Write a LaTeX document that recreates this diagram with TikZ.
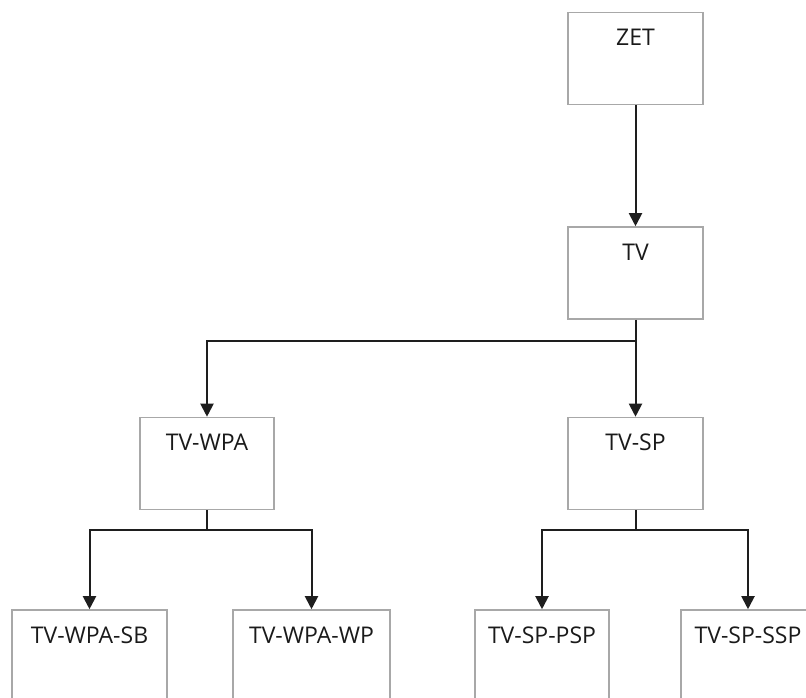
\documentclass[tikz,border=0pt]{standalone}
\usepackage{fontspec}
\setmainfont{Open Sans}
\usetikzlibrary{arrows.meta}
\definecolor{boxline}{HTML}{A8A8A8}
\definecolor{linkline}{HTML}{1E1E1E}
\definecolor{labeltext}{HTML}{1A1A1A}
\begin{document}
\begin{tikzpicture}[x=1pt,y=-1pt,
  unit/.style={draw=boxline, line width=1.6pt, fill=white, inner sep=0pt,
    text height=33pt, text depth=59pt, minimum width=#1, text=labeltext,
    font=\fontsize{23}{26}\selectfont},
  unit/.default=135pt,
  link/.style={draw=linkline, line width=2pt},
  tip/.style={link, -{Triangle[width=13pt,length=13pt]}}]
\useasboundingbox (0,0) rectangle (806,697);
\clip (0,0) rectangle (806,697);
\fill[white] (0,0) rectangle (806,697);

% boxes
\node[unit] (zet) at (635.5,58.5) {ZET};
\node[unit] (tv)  at (635.5,273) {TV};
\node[unit=134pt] (wpa) at (207,463.5) {TV-WPA};
\node[unit] (sp)  at (635.5,463.5) {TV-SP};
\node[unit=155pt] (sb)  at (89.5,656) {TV-WPA-SB};
\node[unit=157pt] (wp)  at (311.5,656) {TV-WPA-WP};
\node[unit=134pt] (psp) at (542,656) {TV-SP-PSP};
\node[unit=134pt] (ssp) at (748,656) {TV-SP-SSP};

% branch points
\coordinate (j1) at (635.5,341);
\coordinate (j2) at (207,530);
\coordinate (j3) at (635.5,530);

% connectors
\draw[tip] (zet.south) -- (tv.north);
\draw[link] (tv.south) -- (j1);
\draw[tip] (j1) -- (sp.north);
\draw[tip] (j1) -| (wpa.north);
\draw[link] (wpa.south) -- (j2);
\draw[tip] (j2) -| (sb.north);
\draw[tip] (j2) -| (wp.north);
\draw[link] (sp.south) -- (j3);
\draw[tip] (j3) -| (psp.north);
\draw[tip] (j3) -| (ssp.north);
\end{tikzpicture}
\end{document}
